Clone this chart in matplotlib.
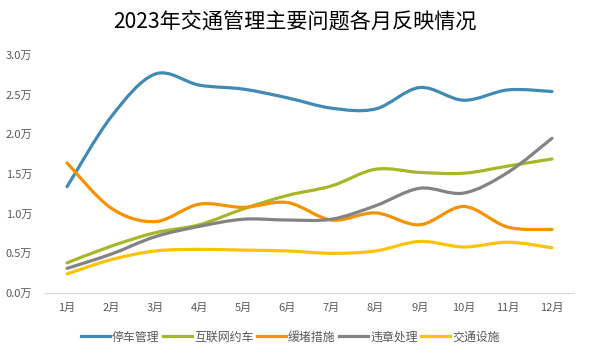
import matplotlib
matplotlib.use("Agg")
import matplotlib.pyplot as plt
from matplotlib.path import Path
from matplotlib.patches import PathPatch
from matplotlib.lines import Line2D
import numpy as np

plt.rcParams['font.family'] = ['Noto Sans CJK SC', 'DejaVu Sans']

months = ["1月", "2月", "3月", "4月", "5月", "6月", "7月", "8月", "9月", "10月", "11月", "12月"]
yticks = [0.0, 0.5, 1.0, 1.5, 2.0, 2.5, 3.0]
ytick_labels = ["0.0万", "0.5万", "1.0万", "1.5万", "2.0万", "2.5万", "3.0万"]

series_names = ["停车管理", "互联网约车", "缓堵措施", "违章处理", "交通设施"]
parking = [1.34, 2.22, 2.76, 2.62, 2.57, 2.46, 2.33, 2.32, 2.59, 2.43, 2.56, 2.54]
ride_hailing = [0.38, 0.59, 0.76, 0.86, 1.06, 1.23, 1.35, 1.56, 1.52, 1.51, 1.60, 1.69]
congestion = [1.64, 1.07, 0.90, 1.12, 1.08, 1.14, 0.92, 1.01, 0.86, 1.09, 0.83, 0.80]
violations = [0.31, 0.49, 0.71, 0.84, 0.93, 0.92, 0.93, 1.10, 1.32, 1.26, 1.52, 1.95]
facilities = [0.24, 0.42, 0.53, 0.55, 0.54, 0.53, 0.50, 0.53, 0.65, 0.58, 0.64, 0.57]

colors = ["#418AB3", "#A6B727", "#F69200", "#838383", "#FEC306"]
all_series = [parking, ride_hailing, congestion, violations, facilities]

fig = plt.figure(figsize=(5.89, 3.56), dpi=100)
ax = fig.add_axes([45/589, 1-293/356, (574-45)/589, (293-55)/356])

x = np.arange(1, len(months) + 1)


def smooth_path(xs, ys):
    pts = np.column_stack([xs, ys]).astype(float)
    n = len(pts)
    verts = [pts[0]]
    codes = [Path.MOVETO]
    for i in range(n - 1):
        p0 = pts[i - 1] if i > 0 else pts[i]
        p1 = pts[i]
        p2 = pts[i + 1]
        p3 = pts[i + 2] if i + 2 < n else pts[i + 1]
        c1 = p1 + (p2 - p0) / 6.0
        c2 = p2 - (p3 - p1) / 6.0
        verts += [c1, c2, p2]
        codes += [Path.CURVE4] * 3
    return Path(verts, codes)


for vals, c in zip(all_series, colors):
    patch = PathPatch(smooth_path(x, vals), facecolor='none', edgecolor=c,
                      lw=2.3, capstyle='round', joinstyle='round',
                      transform=ax.transData)
    ax.add_patch(patch)

ax.set_xlim(0.5, 12.5)
ax.set_ylim(0, 3.0)
ax.set_xticks(x)
ax.set_xticklabels(months)
ax.set_yticks(yticks)
ax.set_yticklabels(ytick_labels)
ax.tick_params(axis='both', length=0, labelsize=8, labelcolor='#595959')
ax.tick_params(axis='x', pad=7)
ax.tick_params(axis='y', pad=9)
for s in ['top', 'right', 'left']:
    ax.spines[s].set_visible(False)
ax.spines['bottom'].set_color('#D9D9D9')
ax.spines['bottom'].set_linewidth(0.9)

fig.text(0.5, 1 - 22/356, "2023年交通管理主要问题各月反映情况", ha='center', va='center',
         fontsize=15.2, color='black')

handles = [Line2D([], [], color=c, lw=2.3) for c in colors]
fig.legend(handles, series_names, loc='center', bbox_to_anchor=(0.493, 1 - 337/356),
           ncol=5, frameon=False, fontsize=8.6, handlelength=2.4,
           handletextpad=0.2, columnspacing=0.3, labelcolor='#595959')

fig.savefig("out.png", dpi=100)
